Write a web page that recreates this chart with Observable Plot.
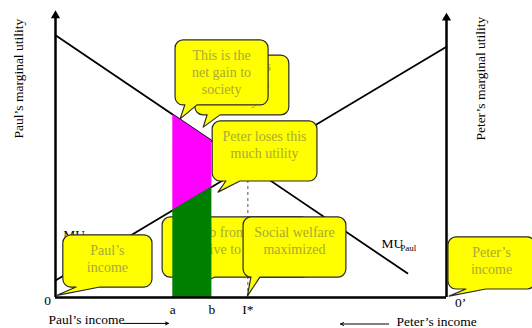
<!DOCTYPE html>
<html><head><meta charset="utf-8">
<script src="https://cdn.jsdelivr.net/npm/d3@7"></script>
<script src="https://cdn.jsdelivr.net/npm/@observablehq/plot@0.6"></script>
<style>body{margin:0;background:#fff} svg text{font-family:"Liberation Serif","Times New Roman",serif !important;}</style>
</head><body><div id="chart"></div>
<script>
// Marginal-utility curves (income measured from Paul's origin, 0..100)
const muPaul = [{income: 0, mu: 92}, {income: 90, mu: 8.5}];
const muPeter = [{income: 0, mu: 6}, {income: 100, mu: 88}];
// transfer interval a..b and MU values read at its ends
const transferIncome = [30, 40];
const paulMUatTransfer = [64.2, 54.9];
const peterMUatTransfer = [30.6, 38.8];
// tick labels on the income axis
const tickNames = ["a", "b", "I*"];
const tickIncome = [30, 40, 49.2];
const equilibriumMU = 46.4;

const shade = transferIncome.map((x, i) => ({income: x, paul: paulMUatTransfer[i], peter: peterMUatTransfer[i]}));
const ticks = tickNames.map((t, i) => ({name: t, income: tickIncome[i]}));

// speech-bubble annotations (data coordinates)
const calloutsBack = [
  {lines: ["Paul gains", "this much", "utility"], x1: 35.8, x2: 59.8, top: 84.9, bottom: 63.9, b1: 38.9, b2: 42.2, tx: 37.9, ty: 59.6, pad: 11},
  {lines: ["This is the", "net gain to", "society"], x1: 30.7, x2: 54.5, top: 90.2, bottom: 67.4, b1: 33.2, b2: 36.3, tx: 32.0, ty: 62.5},
  {lines: ["Peter loses this", "much utility"], x1: 40.2, x2: 67.0, top: 61.8, bottom: 40.7, b1: 43.7, b2: 47.3, tx: 41.7, ty: 36.8},
  {lines: ["Rob from Peter", "give to Paul"], x1: 27.4, x2: 65.2, top: 28.1, bottom: 7.0, b1: 35.8, b2: 40.9, tx: 30, ty: 0}
];
const calloutsFront = [
  {lines: ["Social welfare", "maximized"], x1: 48.1, x2: 74.4, top: 28.1, bottom: 7.0, b1: 50.1, b2: 52.4, tx: 49.2, ty: 0.3},
  {lines: ["Paul\u2019s", "income"], x1: 2.0, x2: 24.8, top: 21.8, bottom: 3.5, b1: 5.4, b2: 11.5, tx: 0.5, ty: 0.6},
  {lines: ["Peter\u2019s", "income"], x1: 100.5, x2: 122.8, top: 21.1, bottom: 2.8, b1: 105.1, b2: 110.2, tx: 100.8, ty: 0.3}
];

function calloutMark(items) {
  return (index, scales) => {
    const g = d3.create("svg:g");
    const r = 8;
    for (const c of items) {
      const L = scales.x(c.x1), R = scales.x(c.x2), T = scales.y(c.top), B = scales.y(c.bottom);
      const bx1 = scales.x(c.b1), bx2 = scales.x(c.b2), tx = scales.x(c.tx), ty = scales.y(c.ty);
      const d = `M${L + r},${T}H${R - r}A${r},${r} 0 0 1 ${R},${T + r}V${B - r}A${r},${r} 0 0 1 ${R - r},${B}` +
        `H${bx2}L${tx},${ty}L${bx1},${B}H${L + r}A${r},${r} 0 0 1 ${L},${B - r}V${T + r}A${r},${r} 0 0 1 ${L + r},${T}Z`;
      g.append("path").attr("d", d).attr("fill", "#ffff00").attr("stroke", "#2a2a2a").attr("stroke-width", 1.2).attr("stroke-linejoin", "round");
      const pad = c.pad ?? 15;
      c.lines.forEach((s, i) => {
        g.append("text").attr("x", (L + R) / 2).attr("y", T + pad + 17 * i).attr("dy", "0.35em")
          .attr("text-anchor", "middle").attr("fill", "#a9a93a").attr("font-size", 14).text(s);
      });
    }
    return g.node();
  };
}

const chart = Plot.plot({
  width: 532, height: 328,
  marginLeft: 55, marginRight: 86, marginTop: 12, marginBottom: 31,
  x: {domain: [0, 100], axis: null},
  y: {domain: [0, 100], axis: null},
  style: {fontFamily: "'Liberation Serif', 'Times New Roman', serif", fontSize: "13.5px", background: "white", color: "black", overflow: "visible"},
  marks: [
    Plot.line(muPaul, {x: "income", y: "mu", stroke: "black", strokeWidth: 1.8}),
    Plot.line(muPeter, {x: "income", y: "mu", stroke: "black", strokeWidth: 1.8}),
    Plot.ruleX([tickIncome[2]], {y1: 0, y2: equilibriumMU, stroke: "#555", strokeDasharray: "3,3", strokeWidth: 1}),
    Plot.areaY(shade, {x: "income", y1: "peter", y2: "paul", fill: "#ff00ff"}),
    // texts
    Plot.text(ticks, {x: "income", y: -4.2, text: "name", fontSize: 13.5}),
    Plot.text(["0"], {x: -2.0, y: -1.05, text: d => d, fontSize: 13.5}),
    Plot.text(["0\u2019"], {x: 103.6, y: -1.75, text: d => d, fontSize: 13.5}),
    Plot.text(["Paul\u2019s income"], {x: -1.8, y: -7.7, text: d => d, textAnchor: "start", fontSize: 13.5}),
    Plot.text(["Peter\u2019s income"], {x: 87.2, y: -8.5, text: d => d, textAnchor: "start", fontSize: 13.5}),
    Plot.arrow([{x1: 17.4, x2: 28.9, y: -9.1}], {x1: "x1", x2: "x2", y1: "y", y2: "y", strokeWidth: 1, headLength: 5, headAngle: 50}),
    Plot.arrow([{x1: 85.2, x2: 72.9, y: -9.3}], {x1: "x1", x2: "x2", y1: "y", y2: "y", strokeWidth: 1, headLength: 5, headAngle: 50}),
    Plot.text(["Paul\u2019s marginal utility"], {x: -9.5, y: 76.8, text: d => d, rotate: -90, fontSize: 13.5}),
    Plot.text(["Peter\u2019s marginal utility"], {x: 108.7, y: 76.8, text: d => d, rotate: -90, fontSize: 13.5}),
    Plot.text(["MU"], {x: 83.4, y: 18.9, text: d => d, textAnchor: "start", fontSize: 13.5}),
    Plot.text(["Paul"], {x: 88.2, y: 17.4, text: d => d, textAnchor: "start", fontSize: 9}),
    Plot.text(["MU"], {x: 2.0, y: 22.1, text: d => d, textAnchor: "start", fontSize: 13.5}),
    Plot.text(["Peter"], {x: 6.9, y: 20.6, text: d => d, textAnchor: "start", fontSize: 9}),
    calloutMark(calloutsBack),
    Plot.areaY(shade, {x: "income", y1: 0, y2: "peter", fill: "#007f00"}),
    // axes
    Plot.ruleX([{x: 0, top: 98.5}, {x: 100, top: 97.5}], {x: "x", y1: 0, y2: "top", stroke: "black", strokeWidth: 2.5}),
    Plot.ruleY([0], {x1: 0, x2: 100, stroke: "black", strokeWidth: 2.5}),
    Plot.dot([{x: 0, y: 98.9}, {x: 100, y: 98.1}], {x: "x", y: "y", symbol: "triangle", r: 3.4, fill: "black"}),
    calloutMark(calloutsFront)
  ]
});
document.getElementById("chart").append(chart);
</script>
</body></html>
